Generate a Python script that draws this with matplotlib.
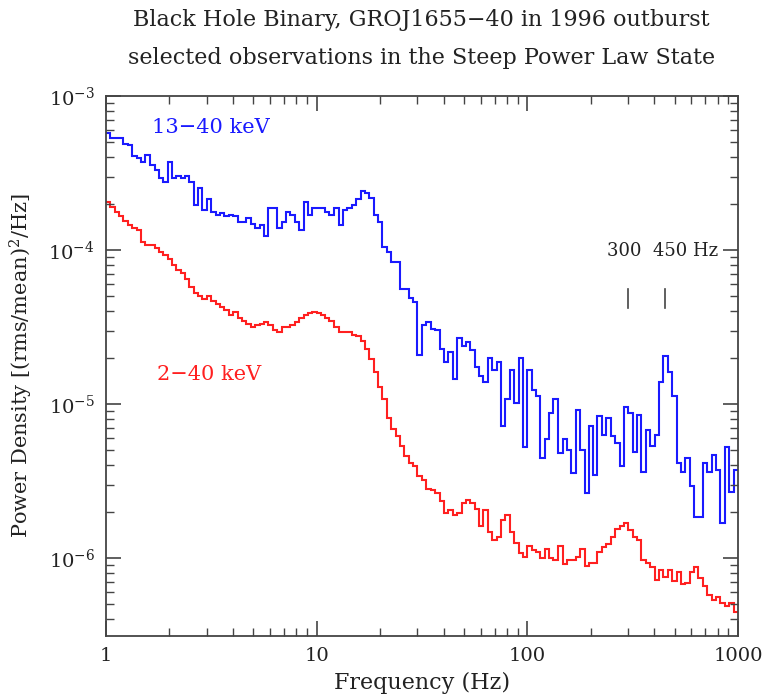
import numpy as np
import matplotlib
matplotlib.use("Agg")
import matplotlib.pyplot as plt

plt.rcParams["font.family"] = "DejaVu Serif"
plt.rcParams["mathtext.fontset"] = "dejavuserif"

# frequency bin edges (Hz), 48 per decade
freq_edges = [
    1.00, 1.05, 1.10, 1.15, 1.21, 1.27, 1.33, 1.40, 1.47, 1.54, 1.62, 1.70,
    1.78, 1.87, 1.96, 2.05, 2.15, 2.26, 2.37, 2.49, 2.61, 2.74, 2.87, 3.01,
    3.16, 3.32, 3.48, 3.65, 3.83, 4.02, 4.22, 4.42, 4.64, 4.87, 5.11, 5.36,
    5.62, 5.90, 6.19, 6.49, 6.81, 7.15, 7.50, 7.87, 8.25, 8.66, 9.09, 9.53,
    10.0, 10.5, 11.0, 11.5, 12.1, 12.7, 13.3, 14.0, 14.7, 15.4, 16.2, 17.0,
    17.8, 18.7, 19.6, 20.5, 21.5, 22.6, 23.7, 24.9, 26.1, 27.4, 28.7, 30.1,
    31.6, 33.2, 34.8, 36.5, 38.3, 40.2, 42.2, 44.2, 46.4, 48.7, 51.1, 53.6,
    56.2, 59.0, 61.9, 64.9, 68.1, 71.5, 75.0, 78.7, 82.5, 86.6, 90.9, 95.3,
    100, 105, 110, 115, 121, 127, 133, 140, 147, 154, 162, 170,
    178, 187, 196, 205, 215, 226, 237, 249, 261, 274, 287, 301,
    316, 332, 348, 365, 383, 402, 422, 442, 464, 487, 511, 536,
    562, 590, 619, 649, 681, 715, 750, 787, 825, 866, 909, 953, 1000,
]

# log10 power density, 13-40 keV
hard_log_power = [
    -3.24, -3.27, -3.27, -3.27, -3.31, -3.32, -3.39, -3.40, -3.43, -3.38, -3.45, -3.48,
    -3.53, -3.56, -3.43, -3.53, -3.52, -3.53, -3.52, -3.56, -3.71, -3.60, -3.74, -3.67,
    -3.75, -3.77, -3.76, -3.78, -3.77, -3.78, -3.82, -3.82, -3.79, -3.83, -3.86, -3.84,
    -3.91, -3.73, -3.73, -3.86, -3.82, -3.75, -3.77, -3.82, -3.87, -3.69, -3.77, -3.73,
    -3.73, -3.73, -3.75, -3.77, -3.73, -3.84, -3.74, -3.73, -3.71, -3.67, -3.62, -3.63,
    -3.66, -3.77, -3.82, -3.98, -4.01, -4.08, -4.08, -4.25, -4.25, -4.31, -4.34, -4.68,
    -4.49, -4.47, -4.51, -4.52, -4.64, -4.73, -4.66, -4.84, -4.57, -4.62, -4.60, -4.65,
    -4.76, -4.82, -4.86, -4.70, -4.78, -4.73, -5.14, -4.97, -4.78, -4.99, -4.70, -5.28,
    -4.78, -4.91, -4.95, -5.35, -5.23, -5.06, -4.97, -5.32, -5.23, -5.30, -5.45, -5.04,
    -5.30, -5.58, -5.14, -5.46, -5.08, -5.20, -5.09, -5.21, -5.25, -5.40, -5.02, -5.06,
    -5.31, -5.07, -5.44, -5.17, -5.27, -5.20, -4.86, -4.69, -4.79, -4.95, -5.38, -5.44,
    -5.35, -5.53, -5.73, -5.73, -5.38, -5.44, -5.33, -5.43, -5.77, -5.28, -5.57, -5.43,
]

# log10 power density, 2-40 keV
soft_log_power = [
    -3.69, -3.72, -3.75, -3.78, -3.81, -3.84, -3.86, -3.87, -3.95, -3.97, -3.97, -3.99,
    -4.01, -4.03, -4.06, -4.10, -4.13, -4.15, -4.19, -4.24, -4.28, -4.30, -4.32, -4.30,
    -4.33, -4.35, -4.37, -4.39, -4.42, -4.40, -4.44, -4.46, -4.48, -4.50, -4.49, -4.48,
    -4.47, -4.49, -4.52, -4.53, -4.50, -4.50, -4.49, -4.47, -4.44, -4.42, -4.41, -4.40,
    -4.41, -4.42, -4.44, -4.46, -4.50, -4.53, -4.53, -4.53, -4.55, -4.56, -4.59, -4.64,
    -4.71, -4.79, -4.89, -4.97, -5.09, -5.16, -5.21, -5.27, -5.34, -5.38, -5.40, -5.47,
    -5.49, -5.55, -5.56, -5.58, -5.63, -5.71, -5.69, -5.72, -5.71, -5.64, -5.62, -5.64,
    -5.68, -5.79, -5.69, -5.83, -5.88, -5.86, -5.75, -5.72, -5.83, -5.90, -5.97, -5.99,
    -5.92, -5.95, -5.96, -6.00, -5.94, -6.00, -6.01, -5.92, -6.04, -6.01, -6.01, -5.99,
    -5.94, -6.05, -6.03, -6.03, -5.96, -5.93, -5.91, -5.86, -5.81, -5.79, -5.77, -5.82,
    -5.86, -5.88, -6.01, -6.03, -6.06, -6.14, -6.08, -6.12, -6.08, -6.15, -6.09, -6.17,
    -6.16, -6.09, -6.06, -6.13, -6.18, -6.24, -6.27, -6.25, -6.29, -6.31, -6.29, -6.35,
]

qpo_freqs = [300, 450]
x_ticks = [1, 10, 100, 1000]
x_ticklabels = ["1", "10", "100", "1000"]

BLUE = "#1a1aff"
RED = "#ff2020"
INK = "#222222"

fig = plt.figure(figsize=(7.81, 6.98), dpi=100)
ax = fig.add_axes([0.1357, 0.0888, 0.8093, 0.7737])

ax.stairs(10 ** np.array(hard_log_power), freq_edges, baseline=None, color=BLUE, lw=1.5)
ax.stairs(10 ** np.array(soft_log_power), freq_edges, baseline=None, color=RED, lw=1.5)

ax.set_xscale("log")
ax.set_yscale("log")
ax.set_xlim(1, 1000)
ax.set_ylim(3.12e-7, 1e-3)
ax.set_xticks(x_ticks)
ax.set_xticklabels(x_ticklabels)

for s in ax.spines.values():
    s.set_color("#444444")
    s.set_linewidth(1.3)
ax.tick_params(which="both", direction="in", top=True, right=True, colors="#444444",
               labelcolor=INK, labelsize=14)
ax.tick_params(which="major", length=11, width=1.2, pad=8)
ax.tick_params(which="minor", length=5.5, width=1.0)

ax.set_xlabel("Frequency (Hz)", fontsize=16, color=INK, labelpad=5)
ax.set_ylabel("Power Density [(rms/mean)$^2$/Hz]", fontsize=15, color=INK, labelpad=10)

# band labels
ax.text(1.65, 6.2e-4, "13\u221240 keV", color=BLUE, fontsize=15, ha="left", va="center")
ax.text(1.75, 1.55e-5, "2\u221240 keV", color=RED, fontsize=15, ha="left", va="center")

# QPO markers
ax.text(240, 9.9e-5, "300  450 Hz", color=INK, fontsize=13, ha="left", va="center")
for f in qpo_freqs:
    ax.plot([f, f], [4.2e-5, 5.6e-5], color="#444444", lw=1.2)

fig.text(0.54, 0.972, "Black Hole Binary, GROJ1655\u221240 in 1996 outburst",
         ha="center", va="center", fontsize=16, color=INK)
fig.text(0.54, 0.917, "selected observations in the Steep Power Law State",
         ha="center", va="center", fontsize=16, color=INK)

fig.savefig("out.png", dpi=100, facecolor="white")
